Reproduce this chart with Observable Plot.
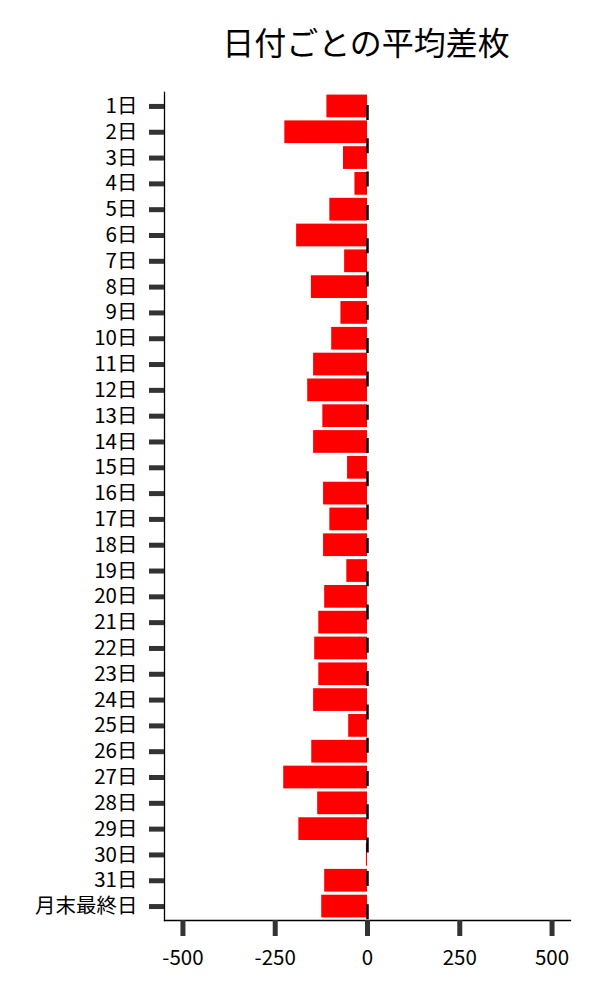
<!DOCTYPE html>
<html>
<head>
<meta charset="utf-8">
<script src="https://cdn.jsdelivr.net/npm/d3@7"></script>
<script src="https://cdn.jsdelivr.net/npm/@observablehq/plot@0.6"></script>
<style>
  body { margin: 0; background: #fff; font-family: "Noto Sans CJK JP", "Noto Sans", sans-serif; }
  #title { height: 70px; box-sizing: border-box; padding-left: 132px; width: 600px; text-align: center;
           font-size: 32px; line-height: 82px; color: #000; }
  svg { display: block; }
</style>
</head>
<body>
<div id="title">日付ごとの平均差枚</div>
<div id="chart"></div>
<script>
const days = ["1日","2日","3日","4日","5日","6日","7日","8日","9日","10日","11日","12日","13日","14日","15日","16日","17日","18日","19日","20日","21日","22日","23日","24日","25日","26日","27日","28日","29日","30日","31日","月末最終日"];
const avgDiff = [-110,-224,-65,-34,-102,-192,-62,-152,-72,-97,-146,-162,-121,-146,-54,-119,-102,-119,-56,-116,-132,-143,-132,-146,-51,-151,-227,-135,-186,-3,-116,-124];
const xTicks = [-500,-250,0,250,500];

const data = days.map((d, i) => ({day: d, value: avgDiff[i]}));

const chart = Plot.plot({
  width: 600,
  height: 930,
  marginTop: 22,
  marginBottom: 80,
  marginLeft: 164,
  marginRight: 30,
  style: {fontFamily: '"Noto Sans CJK JP", sans-serif', fontSize: "20.5px", color: "#000", background: "#fff"},
  x: {domain: [-550, 550], label: null},
  y: {domain: days, paddingInner: 0.12, paddingOuter: 0.1, round: false, label: null},
  marks: [
    Plot.barX(data, {x: "value", y: "day", fill: "#ff0000"}),
    Plot.ruleX([0], {stroke: "#000", strokeWidth: 2.5, strokeDasharray: "15,18.3", strokeDashoffset: 20.3}),
    Plot.frame({anchor: "left", stroke: "#000", strokeWidth: 1.3}),
    Plot.frame({anchor: "bottom", stroke: "#000", strokeWidth: 1.3}),
    Plot.axisY({tickSize: 15, tickPadding: 12, stroke: "#333", strokeWidth: 5, fill: "#000", fontSize: 20.5}),
    Plot.axisX({ticks: xTicks, tickSize: 16, tickPadding: 14, stroke: "#333", strokeWidth: 5, fill: "#000", fontSize: 20.5, tickFormat: d => String(d)})
  ]
});
document.getElementById("chart").appendChild(chart);
</script>
</body>
</html>
